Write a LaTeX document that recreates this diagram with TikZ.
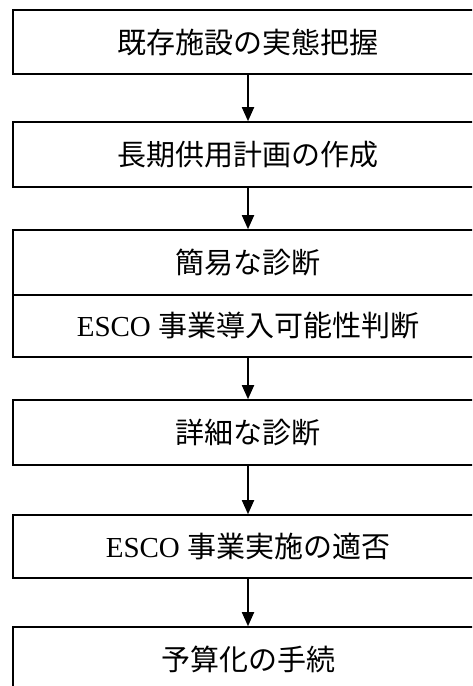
\documentclass[tikz,border=0pt]{standalone}
\usepackage{fontspec}
\setmainfont{Liberation Serif}
\newfontfamily\jpfont{Noto Sans CJK JP}
\usetikzlibrary{arrows.meta}
\begin{document}
\begin{tikzpicture}[x=1pt, y=-1pt,
    stepbox/.style={draw, line width=1.6pt, inner sep=0pt, minimum width=470pt,
        minimum height=64pt, font=\fontsize{29pt}{34pt}\selectfont},
    flow/.style={line width=1.8pt, -{Triangle[width=12pt,length=14pt]}}]
            \clip (0,0) rectangle (472,686);
            \node[stepbox] (s1) at (248,42) {\jpfont 既存施設の実態把握};
            \node[stepbox, minimum height=65pt] (s2) at (248,154.5) {\jpfont 長期供用計画の作成};
            \node[stepbox, minimum height=65pt] (s3a) at (248,262.5) {\jpfont 簡易な診断};
            \node[stepbox, minimum height=62pt] (s3b) at (248,326) {ESCO {\jpfont 事業導入可能性判断}};
            \node[stepbox, minimum height=65pt] (s4) at (248,432.5) {\jpfont 詳細な診断};
            \node[stepbox, minimum height=63pt] (s5) at (248,546.5) {ESCO {\jpfont 事業実施の適否}};
            \node[stepbox, minimum height=65pt] (s6) at (248,659.5) {\jpfont 予算化の手続};
            \foreach \a/\b in {s1/s2, s2/s3a, s3b/s4, s4/s5, s5/s6}
                \draw[flow] (\a) -- (\b);
        \end{tikzpicture}
\end{document}
